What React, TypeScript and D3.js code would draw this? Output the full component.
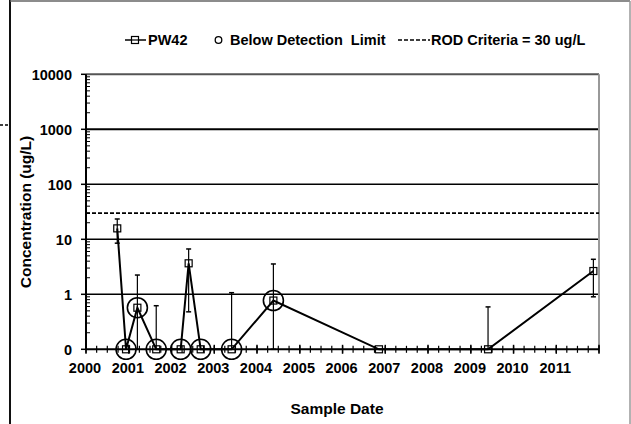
import React from "react";
import * as d3 from "d3";

const dates = ["2000-09-24","2000-12-08","2001-03-15","2001-08-23","2002-03-20","2002-05-27","2002-09-07","2003-05-29","2004-05-20","2006-11-08","2009-05-28","2011-11-14"];
const values = [15.8, 0.1, 0.57, 0.1, 0.1, 3.66, 0.1, 0.1, 0.77, 0.1, 0.1, 2.65];
const errUpper: (number | null)[] = [23.4, null, 2.24, 0.62, null, 6.67, null, 1.07, 3.56, null, 0.59, 4.33];
const errLower: (number | null)[] = [8.5, null, 0.1, null, null, 0.48, null, null, 0.1, null, null, 0.9];
const belowDetection = [false, true, true, true, true, false, true, true, true, false, false, false];
const yTicks = [0.1, 1, 10, 100, 1000, 10000];
const yTickLabels = ["0", "1", "10", "100", "1000", "10000"];
const xYears = [2000,2001,2002,2003,2004,2005,2006,2007,2008,2009,2010,2011];
const rodCriteria = 30;

const FONT = "'Liberation Sans', Arial, sans-serif";

export default function App() {
  const left = 86, right = 599, top = 74.3, bottom = 349.3;
  const x = d3.scaleTime().domain([new Date(2000, 0, 1), new Date(2012, 0, 1)]).range([left, right]);
  const y = d3.scaleLog().domain([0.1, 10000]).range([bottom, top]);
  const parse = d3.timeParse("%Y-%m-%d");
  const pts = dates.map((d, i) => ({ x: x(parse(d) as Date), y: y(values[i]), i }));
  const line = d3.line<{ x: number; y: number }>().x(d => d.x).y(d => d.y);

  const minorY: number[] = [];
  for (let e = -1; e < 4; e++) for (let m = 2; m <= 9; m++) minorY.push(m * Math.pow(10, e));
  const minorX: Date[] = d3.timeMonth.every(3)!.range(new Date(2000, 0, 1), new Date(2012, 0, 2));

  const txt = { fontFamily: FONT, fontWeight: 700 as const, fontSize: 14.5, fill: "#000" };

  return (
    <svg width={631} height={424} style={{ position: "absolute", left: 0, top: 0, background: "#fff" }}>
      <rect x={0} y={0} width={631} height={424} fill="#fff" />
      {/* outer frame */}
      <line x1={10} y1={0} x2={10} y2={424} stroke="#111" strokeWidth={2} />
      <line x1={10} y1={1} x2={630} y2={1} stroke="#666" strokeWidth={1.5} />
      <line x1={630} y1={1} x2={630} y2={424} stroke="#999" strokeWidth={1.5} />
      <line x1={0} y1={125} x2={9} y2={125} stroke="#000" strokeWidth={1.5} strokeDasharray="3,2" />

      {/* gridlines */}
      {[1, 10, 100, 1000].map(v => (
        <line key={v} x1={left} x2={right} y1={y(v)} y2={y(v)} stroke="#000" strokeWidth={v === 1000 ? 2 : 1.5} />
      ))}
      {/* plot border top/right */}
      <line x1={left} x2={right} y1={top} y2={top} stroke="#555" strokeWidth={2} />
      <line x1={right} x2={right} y1={top} y2={bottom} stroke="#999" strokeWidth={2} />
      {/* ROD criteria */}
      <line x1={left} x2={right} y1={y(rodCriteria)} y2={y(rodCriteria)} stroke="#000" strokeWidth={1.8} strokeDasharray="4,2" />

      {/* y axis */}
      <line x1={left} x2={left} y1={top} y2={bottom} stroke="#000" strokeWidth={2} />
      {yTicks.map((v, i) => (
        <g key={v}>
          <line x1={left - 5} x2={left} y1={y(v)} y2={y(v)} stroke="#000" strokeWidth={1.5} />
          <text x={72} y={y(v) + 5.2} textAnchor="end" {...txt}>{yTickLabels[i]}</text>
        </g>
      ))}
      {minorY.map(v => (
        <line key={v} x1={left} x2={left + 4} y1={y(v)} y2={y(v)} stroke="#000" strokeWidth={1} />
      ))}

      {/* x axis */}
      <line x1={left} x2={right} y1={bottom} y2={bottom} stroke="#000" strokeWidth={2} />
      {minorX.map((d, i) => (
        <line key={i} x1={x(d)} x2={x(d)} y1={bottom - 3.5} y2={bottom + 3.5} stroke="#000" strokeWidth={1.2} />
      ))}
      {xYears.concat([2012]).map(yr => (
        <line key={yr} x1={x(new Date(yr, 0, 1))} x2={x(new Date(yr, 0, 1))} y1={bottom - 4.5} y2={bottom + 4.5} stroke="#000" strokeWidth={1.5} />
      ))}
      {xYears.map(yr => (
        <text key={yr} x={x(new Date(yr, 0, 1)) - 1} y={372.5} textAnchor="middle" {...txt}>{yr}</text>
      ))}

      {/* error bars */}
      {pts.map(p => {
        const up = errUpper[p.i], lo = errLower[p.i];
        return (
          <g key={"e" + p.i} stroke="#000" strokeWidth={1.2}>
            {up != null && <line x1={p.x} x2={p.x} y1={p.y} y2={y(up)} />}
            {up != null && <line x1={p.x - 2.5} x2={p.x + 2.5} y1={y(up)} y2={y(up)} strokeWidth={1.5} />}
            {lo != null && <line x1={p.x} x2={p.x} y1={p.y} y2={y(lo)} />}
            {lo != null && <line x1={p.x - 2.5} x2={p.x + 2.5} y1={y(lo)} y2={y(lo)} strokeWidth={1.5} />}
          </g>
        );
      })}

      {/* data line */}
      <path d={line(pts) || ""} fill="none" stroke="#000" strokeWidth={2} />
      {pts.map(p => (
        <rect key={"s" + p.i} x={p.x - 3.5} y={p.y - 3.5} width={7} height={7} fill="none" stroke="#000" strokeWidth={1.2} />
      ))}
      {pts.filter(p => belowDetection[p.i]).map(p => (
        <circle key={"c" + p.i} cx={p.x} cy={p.y} r={10} fill="none" stroke="#000" strokeWidth={1.6} />
      ))}

      {/* legend */}
      <line x1={125} x2={146} y1={40} y2={40} stroke="#000" strokeWidth={1.5} />
      <rect x={131.5} y={36.5} width={7} height={7} fill="#fff" stroke="#000" strokeWidth={1.2} />
      <line x1={131.5} x2={138.5} y1={40} y2={40} stroke="#000" strokeWidth={1.2} />
      <text x={148} y={45.2} {...txt}>PW42</text>
      <circle cx={218.5} cy={40} r={3.3} fill="none" stroke="#000" strokeWidth={1.3} />
      <text x={230} y={45.2} {...txt} xmlSpace="preserve">Below Detection  Limit</text>
      <line x1={398} x2={430} y1={40} y2={40} stroke="#000" strokeWidth={1.5} strokeDasharray="4,2" />
      <text x={431} y={45.2} {...txt}>ROD Criteria = 30 ug/L</text>

      {/* axis titles */}
      <text transform="translate(30.5,212) rotate(-90)" textAnchor="middle" {...txt} fontSize={15.5}>Concentration (ug/L)</text>
      <text x={337} y={413.5} textAnchor="middle" {...txt} fontSize={15.5}>Sample Date</text>
    </svg>
  );
}
